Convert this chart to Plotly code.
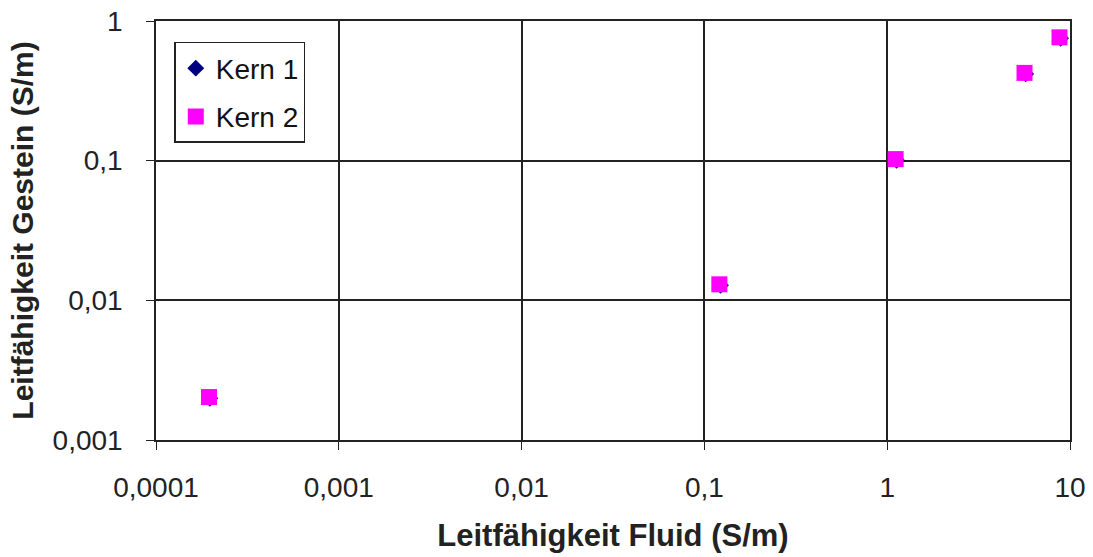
import plotly.graph_objects as go

# Data
kern1_x = [0.000197, 0.1225, 1.125, 5.72, 8.88]
kern1_y = [0.00199, 0.0128, 0.1008, 0.418, 0.752]
kern2_x = [0.000195, 0.1207, 1.112, 5.64, 8.76]
kern2_y = [0.00203, 0.01302, 0.1026, 0.425, 0.764]

x_tickvals = [0.0001, 0.001, 0.01, 0.1, 1, 10]
x_ticktext = ["0,0001", "0,001", "0,01", "0,1", "1", "10"]
y_tickvals = [0.001, 0.01, 0.1, 1]
y_ticktext = ["0,001", "0,01", "0,1", "1"]

FONT = "Liberation Sans, Arial, sans-serif"

fig = go.Figure()
fig.add_trace(go.Scatter(
    x=kern1_x, y=kern1_y, mode="markers", name="Kern 1", legendgroup="k1",
    marker=dict(symbol="diamond", size=13, color="#000080"),
))
fig.add_trace(go.Scatter(
    x=kern2_x, y=kern2_y, mode="markers", name="Kern 2", legendgroup="k2",
    marker=dict(symbol="square", size=16, color="#FF00FF"),
))

axis_common = dict(
    type="log",
    automargin=False,
    showgrid=True, gridcolor="#222222", gridwidth=1.5,
    showline=True, linecolor="#222222", linewidth=1.5, mirror=True,
    ticks="outside", ticklen=8, tickcolor="#222222", tickwidth=1.2,
    tickfont=dict(family=FONT, size=28, color="#222222"),
    zeroline=False,
)

fig.update_layout(
    width=1093, height=557,
    margin=dict(l=156, r=23, t=21, b=117),
    paper_bgcolor="white", plot_bgcolor="white",
    font=dict(family=FONT, color="#222222"),
    showlegend=True,
    legend=dict(
        x=0.02, y=0.95, xanchor="left", yanchor="top",
        bgcolor="white", bordercolor="#222222", borderwidth=1.5,
        font=dict(family=FONT, size=28, color="#111111"),
        traceorder="grouped", tracegroupgap=9,
    ),
    xaxis=dict(
        axis_common, range=[-4, 1],
        tickvals=x_tickvals, ticktext=x_ticktext,
        ticklabelstandoff=14,
        title=dict(text="<b>Leitfähigkeit Fluid (S/m)</b>",
                   font=dict(family=FONT, size=31, color="#222222"), standoff=22),
    ),
    yaxis=dict(
        axis_common, range=[-3, 0],
        tickvals=y_tickvals, ticktext=y_ticktext,
        ticklabelstandoff=18,
        title=dict(text="<b>Leitfähigkeit Gestein (S/m)</b>",
                   font=dict(family=FONT, size=30, color="#222222"), standoff=10),
    ),
)

fig.write_html("out.html")
